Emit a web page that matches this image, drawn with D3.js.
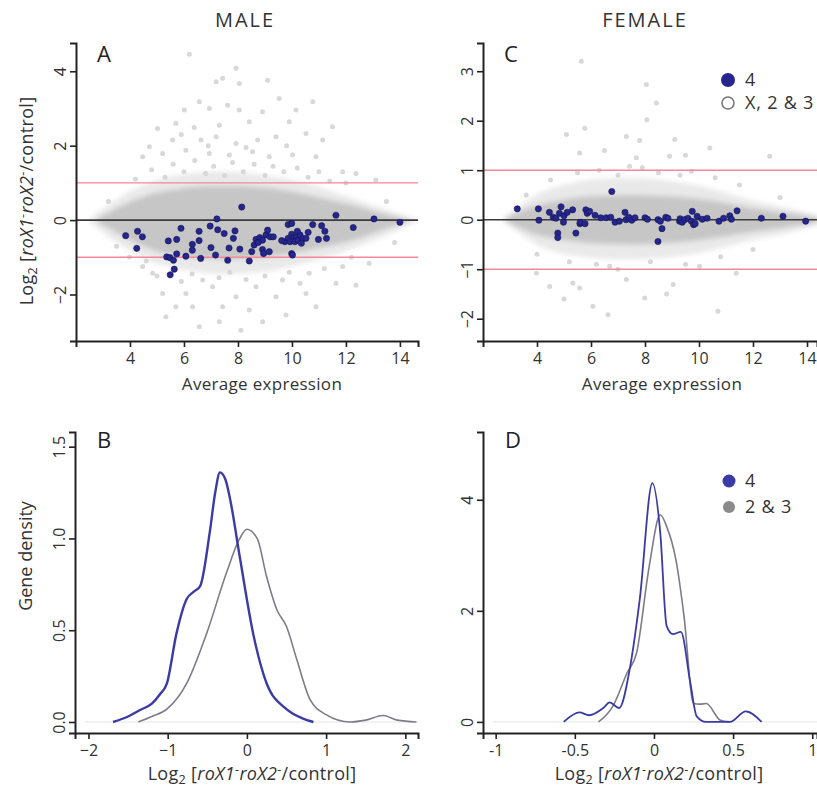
<!DOCTYPE html>
<meta charset="utf-8">
<style>
  body { margin: 0; background: #fff; }
  svg { font-family: "Open Sans", sans-serif; }
</style>
<svg width="817" height="795"></svg>
<script src="https://d3js.org/d3.v7.min.js"></script>
<script>
// ---- data ----
// chromosome 4 genes, male (A): [average expression, log2 ratio]
var maleChr4 = [[3.84,-0.42],[4.28,-0.30],[4.46,-0.45],[4.25,-0.76],[5.42,-0.56],[5.73,-0.52],[5.89,-0.22],
  [5.36,-0.99],[5.48,-1.01],[5.61,-1.08],[5.73,-0.91],[5.64,-1.32],[5.49,-1.47],[6.07,-0.97],[6.31,-0.65],
  [6.31,-0.81],[6.56,-0.30],[6.56,-0.55],[6.62,-1.03],[6.97,-0.16],[7.00,-0.74],[7.22,0.03],[7.25,-0.26],
  [7.17,-0.94],[7.49,-0.36],[7.67,-0.75],[7.62,-1.08],[7.89,-0.29],[7.83,-0.49],[8.07,-0.78],[8.14,0.35],
  [8.42,-1.10],[8.51,-0.85],[8.60,-0.67],[8.67,-0.52],[8.81,-0.47],[8.91,-0.54],[9.04,-0.40],[9.10,-0.27],
  [9.19,-0.45],[8.91,-0.79],[8.95,-0.90],[9.16,-0.85],[9.31,-0.45],[9.86,-0.12],[9.99,-0.09],[9.74,-0.58],
  [9.86,-0.49],[9.99,-0.38],[10.07,-0.48],[10.17,-0.45],[10.30,-0.40],[9.93,-0.58],[10.11,-0.58],[10.23,-0.54],
  [9.99,-0.90],[10.02,-0.94],[10.20,-0.30],[10.40,-0.50],[9.62,-0.55],[10.35,-0.62],[8.75,-0.60],
  [10.60,-0.33],[10.52,-0.49],[10.77,-0.12],[10.98,-0.52],[11.10,-0.15],[11.22,-0.30],[11.28,-0.49],
  [11.63,0.13],[12.27,-0.20],[13.04,0.03],[14.00,-0.06]]

// chromosome 4 genes, female (C)
var femaleChr4 = [[3.27,0.22],[4.05,0.22],[4.07,-0.01],[4.46,0.15],[4.60,0.05],[4.70,0.03],[4.83,0.13],
  [4.89,0.26],[4.98,-0.05],[5.00,0.08],[5.12,0.15],[5.32,0.20],[4.77,-0.27],[4.77,-0.36],[5.44,-0.27],
  [5.59,-0.08],[5.60,-0.05],[5.81,0.20],[5.86,0.13],[5.78,-0.08],[5.95,0.17],[6.15,0.09],[6.36,0.04],
  [6.56,0.04],[6.73,0.05],[6.77,0.57],[6.89,-0.05],[7.05,-0.03],[7.26,0.15],[7.30,0.00],[7.40,0.05],
  [7.51,-0.01],[7.63,0.04],[8.00,0.04],[8.09,0.01],[8.48,0.00],[8.57,-0.03],[8.63,-0.18],[8.77,0.05],
  [8.85,0.03],[8.48,-0.44],[9.28,-0.03],[9.30,0.02],[9.38,-0.05],[9.47,0.00],[9.59,0.03],[9.75,0.17],
  [9.72,-0.03],[9.80,-0.10],[9.86,-0.08],[9.93,0.07],[10.12,0.01],[10.30,0.03],[10.74,-0.03],[10.91,0.03],
  [11.14,0.08],[11.20,0.01],[11.41,0.18],[12.31,0.03],[13.11,0.07],[13.95,-0.03]]

// X, 2 & 3 genes: dense core / lighter fringe envelopes [x, low, high], plus sparse points
var maleCore = [[2.8,-0.05,0.05],[3.2,-0.2,0.2],[4,-0.55,0.5],[4.5,-0.7,0.63],[5,-0.85,0.75],[6,-1.0,0.88],
  [7,-1.05,0.92],[8,-1.05,0.92],[9,-1.0,0.88],[10,-0.9,0.78],[11,-0.75,0.6],[12,-0.6,0.45],[12.5,-0.5,0.36],
  [13.2,-0.3,0.2],[13.8,-0.15,0.1],[14.3,-0.05,0.03]]
var maleHalo = [[2.5,-0.05,0.05],[3,-0.35,0.3],[4,-0.85,0.8],[5,-1.2,1.1],[6,-1.35,1.25],[7,-1.45,1.3],
  [8,-1.45,1.3],[9,-1.4,1.2],[10,-1.25,1.1],[11,-1.05,0.9],[12,-0.85,0.65],[13,-0.55,0.4],[14,-0.25,0.15],
  [14.6,-0.03,0.03]]
var maleOther = [[6.2,4.46],[7.93,4.08],[7.43,3.81],[7.19,3.72],[8.05,3.67],[9.1,3.76],[9.53,3.27],
  [10.77,3.18],[6.57,3.18],[6.01,2.96],[6.94,3.0],[7.62,3.09],[8.05,2.96],[8.91,2.91],[10.15,2.96],
  [5.02,2.46],[5.7,2.6],[6.38,2.49],[7.31,2.55],[8.42,2.64],[9.9,2.64],[11.5,2.51],[4.72,1.97],[5.58,2.15],
  [6.63,2.15],[7.19,2.24],[7.93,2.06],[8.73,2.15],[9.41,2.24],[10.52,2.33],[11.14,2.15],[4.47,1.7],
  [5.21,1.79],[6.07,1.88],[6.94,1.79],[7.68,1.75],[8.54,1.84],[9.16,1.7],[10.02,1.75],[10.89,1.7],
  [11.88,1.3],[12.37,1.25],[13.11,1.08],[5.21,-1.97],[6.07,-1.97],[7.06,-1.79],[7.93,-2.06],[8.67,-1.79],
  [9.41,-2.06],[10.52,-1.97],[11.63,-1.7],[12.37,-1.75],[5.7,-2.33],[6.32,-2.33],[7.43,-2.33],[8.42,-2.42],
  [9.78,-2.55],[6.57,-2.87],[8.11,-2.96],[7.31,-2.73],[5.33,-2.6],[8.91,-2.73],[10.89,-2.33],[4.84,-1.43],
  [4.47,-1.25],[10.64,-1.43],[11.88,-1.25],[12.86,-1.16],[3.98,-0.99],[6.69,-1.61],[9.65,-1.61],
  [4.2,1.1],[4.8,1.35],[5.3,1.15],[5.6,1.5],[6.0,1.3],[6.4,1.6],[6.8,1.25],[7.1,1.45],[7.5,1.2],[7.8,1.55],
  [8.2,1.3],[8.6,1.5],[9.0,1.2],[9.3,1.45],[9.7,1.3],[10.2,1.4],[10.6,1.15],[11.0,1.3],[11.4,1.05],[12.0,1.0],
  [5.0,-1.5],[5.9,-1.65],[6.3,-1.45],[7.3,-1.55],[7.7,-1.4],[8.3,-1.6],[9.0,-1.5],[9.9,-1.4],[10.3,-1.7],
  [11.2,-1.3],[12.2,-1.0],[4.6,-1.1],[3.5,-0.7],[3.2,0.5],[13.5,0.5],[13.8,-0.6],[6.9,2.0],[8.3,1.95],
  [9.8,2.0],[5.9,2.3]]

var femaleCore = [[2.9,-0.05,0.05],[3.5,-0.2,0.2],[4,-0.32,0.3],[5,-0.42,0.42],[6,-0.48,0.48],[7,-0.5,0.5],
  [8,-0.5,0.5],[9,-0.47,0.47],[10,-0.42,0.42],[11,-0.33,0.35],[12,-0.25,0.22],[13,-0.17,0.15],[14,-0.1,0.08],
  [14.4,-0.05,0.04]]
var femaleHalo = [[2.7,-0.03,0.03],[3.2,-0.2,0.2],[4,-0.55,0.55],[5,-0.7,0.72],[6,-0.78,0.82],[7,-0.8,0.85],
  [8,-0.8,0.85],[9,-0.75,0.78],[10,-0.68,0.7],[11,-0.55,0.55],[12,-0.4,0.38],[13,-0.3,0.27],[14,-0.18,0.15],
  [14.6,-0.05,0.05]]
var femaleOther = [[5.64,3.2],[8.05,2.73],[8.07,2.02],[8.42,2.36],[5.77,1.85],[5.09,1.72],[7.31,1.68],
  [9.1,1.62],[10.4,1.45],[12.62,1.28],[5.58,1.35],[7.43,1.08],[8.91,1.28],[9.72,0.98],[7.68,1.25],
  [4.47,-1.35],[5.33,-1.28],[5.58,-1.38],[6.07,-1.75],[6.63,-1.92],[7.99,-1.58],[9.04,-1.31],[10.7,-1.85],
  [3.98,-1.08],[7.31,-1.21],[11.38,-1.08],[10.02,-0.94],[6.69,-0.94],
  [4.5,0.8],[5.5,0.95],[6.3,1.0],[7.0,0.9],[7.9,1.05],[8.5,0.95],[9.3,0.9],[10.6,0.85],[11.5,0.7],
  [5.2,-0.85],[6.2,-0.9],[7.0,-1.0],[8.2,-0.85],[9.5,-0.9],[10.8,-0.75],[12.0,-0.6],[4.0,-0.7],[3.6,0.5],
  [13.0,0.45],[6.5,1.4],[7.8,1.6],[9.5,1.3],[5.0,-1.6],[8.8,-1.5]]

// density curves [log2 ratio, density]
var maleDens4 = [[-1.69,0],[-1.5,0.03],[-1.35,0.065],[-1.2,0.1],[-1.1,0.15],[-1.01,0.21],[-0.89,0.48],
  [-0.76,0.67],[-0.67,0.71],[-0.59,0.74],[-0.47,1.03],[-0.4,1.25],[-0.34,1.36],[-0.27,1.32],[-0.21,1.21],
  [-0.09,0.9],[0.08,0.48],[0.25,0.21],[0.5,0.07],[0.7,0.02],[0.84,0]]
var maleDens23 = [[-1.37,0],[-1.2,0.03],[-1.01,0.07],[-0.76,0.21],[-0.51,0.48],[-0.26,0.81],[-0.09,1.0],
  [0.0,1.05],[0.13,1.0],[0.25,0.79],[0.38,0.61],[0.5,0.52],[0.63,0.34],[0.8,0.12],[1.0,0.04],[1.3,0.0],
  [1.5,0.01],[1.72,0.035],[1.9,0.01],[2.14,0]]
var femaleDens4 = [[-0.57,0],[-0.47,0.17],[-0.41,0.12],[-0.32,0.25],[-0.28,0.35],[-0.22,0.25],[-0.15,1.0],
  [-0.09,2.2],[-0.01,4.3],[0.04,3.4],[0.08,1.73],[0.12,1.58],[0.17,1.62],[0.23,0.7],[0.27,0.1],[0.33,0],
  [0.48,0],[0.58,0.19],[0.68,0]]
var femaleDens23 = [[-0.35,0],[-0.26,0.28],[-0.17,0.88],[-0.11,1.24],[-0.03,2.8],[0.04,3.73],[0.08,3.52],
  [0.14,2.9],[0.19,1.9],[0.25,0.33],[0.29,0.32],[0.33,0.33],[0.42,0.03],[0.48,0]]

var maTicksX = [4, 6, 8, 10, 12, 14]
var maleTicksY = [-2, 0, 2, 4]
var femaleTicksY = [-2, -1, 0, 1, 2, 3]
var densMaleTicksX = [-2, -1, 0, 1, 2]
var densMaleTicksY = [0, 0.5, 1, 1.5]
var densFemaleTicksX = [-1, -0.5, 0, 0.5, 1]
var densFemaleTicksY = [0, 2, 4]

var BLUE = '#26268f', BLUE_LINE = '#3b3ba6', GRAY_LINE = '#7c7c8c'

var svg = d3.select('svg')
var defs = svg.append('defs')
defs.append('filter').attr('id', 'soft')
  .attr('x', '-10%').attr('y', '-30%').attr('width', '120%').attr('height', '160%')
  .append('feGaussianBlur').attr('stdDeviation', 2.5)
defs.append('filter').attr('id', 'dot')
  .append('feGaussianBlur').attr('stdDeviation', 0.7)

function logLabel(text) {
  text.append('tspan').text('Log')
  text.append('tspan').attr('dy', 4).attr('font-size', '0.7em').text('2')
  text.append('tspan').attr('dy', -4).text(' [')
  text.append('tspan').attr('font-style', 'italic').text('roX1')
  text.append('tspan').attr('dy', -6).attr('font-size', '0.7em').text('-')
  text.append('tspan').attr('dy', 6).attr('font-style', 'italic').text('roX2')
  text.append('tspan').attr('dy', -6).attr('font-size', '0.7em').text('-')
  text.append('tspan').attr('dy', 6).text('/control]')
}

function drawAxes(x, y, ticksX, ticksY, fmtX, fmtY) {
  var xr = x.range(), yr = y.range()
  var gx = svg.append('g').attr('transform', 'translate(0,' + yr[0] + ')')
    .call(d3.axisBottom(x).tickValues(ticksX).tickFormat(fmtX).tickSizeOuter(0).tickSize(6).tickPadding(6))
  var gy = svg.append('g').attr('transform', 'translate(' + xr[0] + ',0)')
    .call(d3.axisLeft(y).tickValues(ticksY).tickFormat(fmtY).tickSizeOuter(0).tickSize(6))
  ;[gx, gy].forEach(function (g) {
    g.select('.domain').attr('stroke', '#222').attr('stroke-width', 2)
    g.selectAll('.tick line').attr('stroke', '#222').attr('stroke-width', 1.6)
    g.selectAll('text').attr('font-size', 16).attr('fill', '#333').attr('font-family', '"Open Sans", sans-serif')
  })
  gy.selectAll('.tick text').attr('transform', 'rotate(-90)')
    .attr('x', 0).attr('y', -10).attr('dy', 0).attr('text-anchor', 'middle')
}

function drawScatter(cfg) {
  var x = d3.scaleLinear().domain(cfg.xDomain).range([cfg.left, cfg.right])
  var y = d3.scaleLinear().domain(cfg.yDomain).range([cfg.bottom, cfg.top])
  var area = d3.area().curve(d3.curveBasis)
    .x(function (d) { return x(d[0]) })
    .y0(function (d) { return y(d[1]) })
    .y1(function (d) { return y(d[2]) })
  var cloud = svg.append('g').attr('filter', 'url(#soft)')
  cloud.append('path').datum(cfg.halo).attr('d', area).attr('fill', '#e9e9e9')
  cloud.append('path').datum(cfg.core).attr('d', area).attr('fill', '#c6c6c6')
  svg.append('g').attr('filter', 'url(#dot)').selectAll('circle').data(cfg.other).enter().append('circle')
    .attr('cx', function (d) { return x(d[0]) })
    .attr('cy', function (d) { return y(d[1]) })
    .attr('r', 2.5).attr('fill', '#d8d8d8')

  ;[-1, 1].forEach(function (v) {
    svg.append('line').attr('x1', cfg.left).attr('x2', cfg.right)
      .attr('y1', y(v)).attr('y2', y(v)).attr('stroke', '#f08a9a').attr('stroke-width', 1.4)
  })
  svg.append('line').attr('x1', cfg.left).attr('x2', cfg.right)
    .attr('y1', y(0)).attr('y2', y(0)).attr('stroke', '#3a3a3a').attr('stroke-width', 1.6)

  svg.append('g').selectAll('circle').data(cfg.chr4).enter().append('circle')
    .attr('cx', function (d) { return x(d[0]) })
    .attr('cy', function (d) { return y(d[1]) })
    .attr('r', 3.1).attr('fill', BLUE).attr('stroke', '#12124d').attr('stroke-width', 0.6)

  drawAxes(x, y, cfg.ticksX, cfg.ticksY, d3.format('d'), d3.format('d'))

  svg.append('text').attr('x', cfg.labelX).attr('y', 390)
    .attr('text-anchor', 'middle').attr('font-size', 17).attr('letter-spacing', 0.3)
    .attr('fill', '#333').text('Average expression')
  svg.append('text').attr('x', cfg.left + 21).attr('y', 62)
    .attr('font-size', 22).attr('fill', '#222').text(cfg.letter)
  svg.append('text').attr('x', cfg.titleX).attr('y', 27).attr('text-anchor', 'middle')
    .attr('font-size', 20).attr('letter-spacing', 2).attr('fill', '#333').text(cfg.title)
}

function drawDensity(cfg) {
  var x = d3.scaleLinear().domain(cfg.xDomain).range([cfg.left, cfg.right])
  var y = d3.scaleLinear().domain(cfg.yDomain).range([cfg.bottom, cfg.top])
  var line = d3.line().curve(d3.curveMonotoneX)
    .x(function (d) { return x(d[0]) })
    .y(function (d) { return y(d[1]) })
  svg.append('line').attr('x1', x(cfg.xDomain[0]) + 10).attr('x2', cfg.right)
    .attr('y1', y(0)).attr('y2', y(0)).attr('stroke', '#e6e6e6').attr('stroke-width', 1)
  svg.append('path').datum(cfg.other).attr('d', line).attr('fill', 'none')
    .attr('stroke', GRAY_LINE).attr('stroke-width', 1.6)
  svg.append('path').datum(cfg.chr4).attr('d', line).attr('fill', 'none')
    .attr('stroke', BLUE_LINE).attr('stroke-width', cfg.blueWidth)
  drawAxes(x, y, cfg.ticksX, cfg.ticksY, cfg.fmtX, cfg.fmtY)
  svg.append('text').attr('x', cfg.left + 22).attr('y', 448)
    .attr('font-size', 22).attr('fill', '#222').text(cfg.letter)
  var t = svg.append('text').attr('x', cfg.labelX).attr('y', 780).attr('text-anchor', 'middle')
    .attr('font-size', 18).attr('letter-spacing', 0.3).attr('fill', '#333')
  logLabel(t)
}

// A: male MA plot
drawScatter({ left: 76, right: 418, top: 43, bottom: 341, xDomain: [2.0, 14.67], yDomain: [-3.25, 4.76],
  core: maleCore, halo: maleHalo, other: maleOther, chr4: maleChr4,
  ticksX: maTicksX, ticksY: maleTicksY, letter: 'A', title: 'MALE', titleX: 245, labelX: 262 })

// C: female MA plot
drawScatter({ left: 483, right: 817, top: 43, bottom: 341, xDomain: [2.0, 14.37], yDomain: [-2.45, 3.57],
  core: femaleCore, halo: femaleHalo, other: femaleOther, chr4: femaleChr4,
  ticksX: maTicksX, ticksY: femaleTicksY, letter: 'C', title: 'FEMALE', titleX: 645, labelX: 662 })

// A y label
var ya = svg.append('text').attr('transform', 'translate(33,201) rotate(-90)')
  .attr('text-anchor', 'middle').attr('font-size', 18).attr('letter-spacing', 0.3).attr('fill', '#333')
logLabel(ya)

// legend C
var legC = svg.append('g').attr('font-size', 18).attr('fill', '#333')
legC.append('circle').attr('cx', 728).attr('cy', 80).attr('r', 7).attr('fill', BLUE)
legC.append('circle').attr('cx', 728).attr('cy', 103).attr('r', 6).attr('fill', '#fff')
  .attr('stroke', '#777').attr('stroke-width', 1.6)
legC.append('text').attr('x', 745).attr('y', 86).text('4')
legC.append('text').attr('x', 745).attr('y', 109).attr('letter-spacing', 0.8).text('X, 2 & 3')

// B: male densities
drawDensity({ left: 75, right: 418, top: 432, bottom: 733, xDomain: [-2.17, 2.16], yDomain: [-0.06, 1.58],
  chr4: maleDens4, other: maleDens23, ticksX: densMaleTicksX, ticksY: densMaleTicksY, blueWidth: 2.4,
  fmtX: d3.format('d'), fmtY: d3.format('.1f'), letter: 'B', labelX: 252 })

// D: female densities
drawDensity({ left: 483, right: 817, top: 432, bottom: 733, xDomain: [-1.08, 1.03], yDomain: [-0.2, 5.22],
  chr4: femaleDens4, other: femaleDens23, ticksX: densFemaleTicksX, ticksY: densFemaleTicksY, blueWidth: 1.8,
  fmtX: function (d) { return d3.format('')(d).replace('\u2212', '-') }, fmtY: d3.format('d'), letter: 'D', labelX: 659 })

svg.append('text').attr('transform', 'translate(32,556) rotate(-90)')
  .attr('text-anchor', 'middle').attr('font-size', 18).attr('fill', '#333').text('Gene density')

// legend D
var legD = svg.append('g').attr('font-size', 18).attr('fill', '#333')
legD.append('circle').attr('cx', 729).attr('cy', 481).attr('r', 6.5).attr('fill', BLUE_LINE)
legD.append('circle').attr('cx', 729).attr('cy', 507).attr('r', 6).attr('fill', '#8a8a8a')
legD.append('text').attr('x', 745).attr('y', 487).text('4')
legD.append('text').attr('x', 745).attr('y', 513).attr('letter-spacing', 0.8).text('2 & 3')
</script>
